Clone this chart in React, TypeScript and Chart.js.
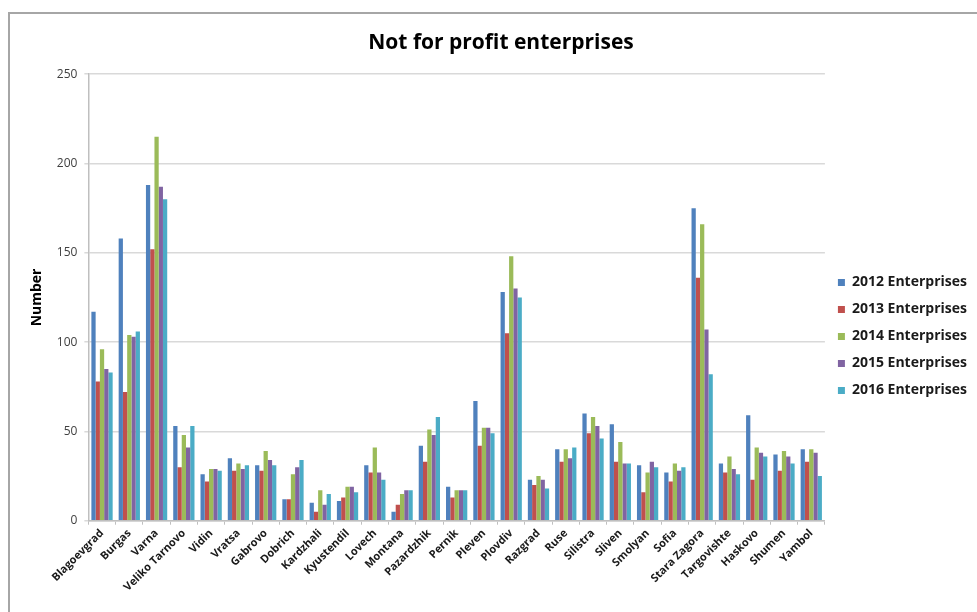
import React, { useEffect, useRef } from "react";
import { Chart, registerables } from "chart.js";

Chart.register(...registerables);

const categories = [
  "Blagoevgrad", "Burgas", "Varna", "Veliko Tarnovo", "Vidin", "Vratsa", "Gabrovo",
  "Dobrich", "Kardzhali", "Kyustendil", "Lovech", "Montana", "Pazardzhik", "Pernik",
  "Pleven", "Plovdiv", "Razgrad", "Ruse", "Silistra", "Sliven", "Smolyan", "Sofia",
  "Stara Zagora", "Targovishte", "Haskovo", "Shumen", "Yambol",
];

const enterprises2012 = [117, 158, 188, 53, 26, 35, 31, 12, 10, 11, 31, 5, 42, 19, 67, 128, 23, 40, 60, 54, 31, 27, 175, 32, 59, 37, 40];
const enterprises2013 = [78, 72, 152, 30, 22, 28, 28, 12, 5, 13, 27, 9, 33, 13, 42, 105, 20, 33, 49, 33, 16, 22, 136, 27, 23, 28, 33];
const enterprises2014 = [96, 104, 215, 48, 29, 32, 39, 26, 17, 19, 41, 15, 51, 17, 52, 148, 25, 40, 58, 44, 27, 32, 166, 36, 41, 39, 40];
const enterprises2015 = [85, 103, 187, 41, 29, 29, 34, 30, 9, 19, 27, 17, 48, 17, 52, 130, 23, 35, 53, 32, 33, 28, 107, 29, 38, 36, 38];
const enterprises2016 = [83, 106, 180, 53, 28, 31, 31, 34, 15, 16, 23, 17, 58, 17, 49, 125, 18, 41, 46, 32, 30, 30, 82, 26, 36, 32, 25];

const seriesLabels = ["2012 Enterprises", "2013 Enterprises", "2014 Enterprises", "2015 Enterprises", "2016 Enterprises"];
const seriesColors = ["#4F81BD", "#C0504D", "#9BBB59", "#8064A2", "#4BACC6"];
const yTicks = [0, 50, 100, 150, 200, 250];

export default function App() {
  const canvasRef = useRef<HTMLCanvasElement | null>(null);

  useEffect(() => {
    const canvas = canvasRef.current;
    if (!canvas) return;
    Chart.defaults.font.family = "'Open Sans', sans-serif";
    const values = [enterprises2012, enterprises2013, enterprises2014, enterprises2015, enterprises2016];
    const chart = new Chart(canvas, {
      type: "bar",
      data: {
        labels: categories,
        datasets: values.map((v, i) => ({
          label: seriesLabels[i],
          data: v,
          backgroundColor: seriesColors[i],
          borderWidth: 0,
          categoryPercentage: 0.78,
          barPercentage: 1,
        })),
      },
      options: {
        responsive: false,
        animation: false,
        layout: { padding: { left: 25, right: 0, top: 0, bottom: 16 } },
        plugins: {
          tooltip: { enabled: false },
          title: {
            display: true,
            text: "Not for profit enterprises",
            color: "#000",
            font: { size: 21, weight: "bold" },
            padding: { top: 30, bottom: 19 },
          },
          legend: {
            position: "right",
            title: { display: true, text: " ", padding: { top: 65, bottom: 0 }, font: { size: 10 } },
            labels: {
              boxWidth: 7,
              boxHeight: 7,
              padding: 13,
              color: "#1a1a1a",
              font: { size: 14, weight: "bold" },
            },
          },
        },
        scales: {
          x: {
            offset: true,
            grid: { display: true, drawOnChartArea: false, drawTicks: true, tickLength: 4, color: "#bfbfbf", offset: true },
            border: { display: true, color: "#bfbfbf", width: 1.5 },
            ticks: {
              autoSkip: false,
              maxRotation: 45,
              minRotation: 45,
              padding: 2,
              color: "#1a1a1a",
              font: { size: 11, weight: "bold" },
            },
          },
          y: {
            min: 0,
            max: 250,
            afterBuildTicks: (axis: any) => {
              axis.ticks = yTicks.map((v) => ({ value: v }));
            },
            grid: { color: "#d9d9d9", lineWidth: 1.5, drawTicks: true, tickLength: 4 },
            border: { display: true, color: "#bfbfbf", width: 1.5 },
            ticks: { padding: 7, color: "#404040", font: { size: 12 } },
            title: {
              display: true,
              text: "Number",
              color: "#000",
              font: { size: 14, weight: "bold" },
              padding: { top: 4, bottom: 4 },
            },
          },
        },
      },
    });
    return () => chart.destroy();
  }, []);

  return (
    <div style={{ position: "fixed", left: 0, top: 0, width: 977, height: 612, overflow: "hidden", background: "#fff" }}>
      <div
        style={{
          position: "absolute",
          left: 8,
          top: 12,
          width: 1200,
          height: 900,
          borderLeft: "2px solid #a6a6a6",
          borderTop: "2px solid #a6a6a6",
        }}
      />
      <canvas ref={canvasRef} width={977} height={612} style={{ position: "absolute", left: 0, top: 0 }} />
    </div>
  );
}
